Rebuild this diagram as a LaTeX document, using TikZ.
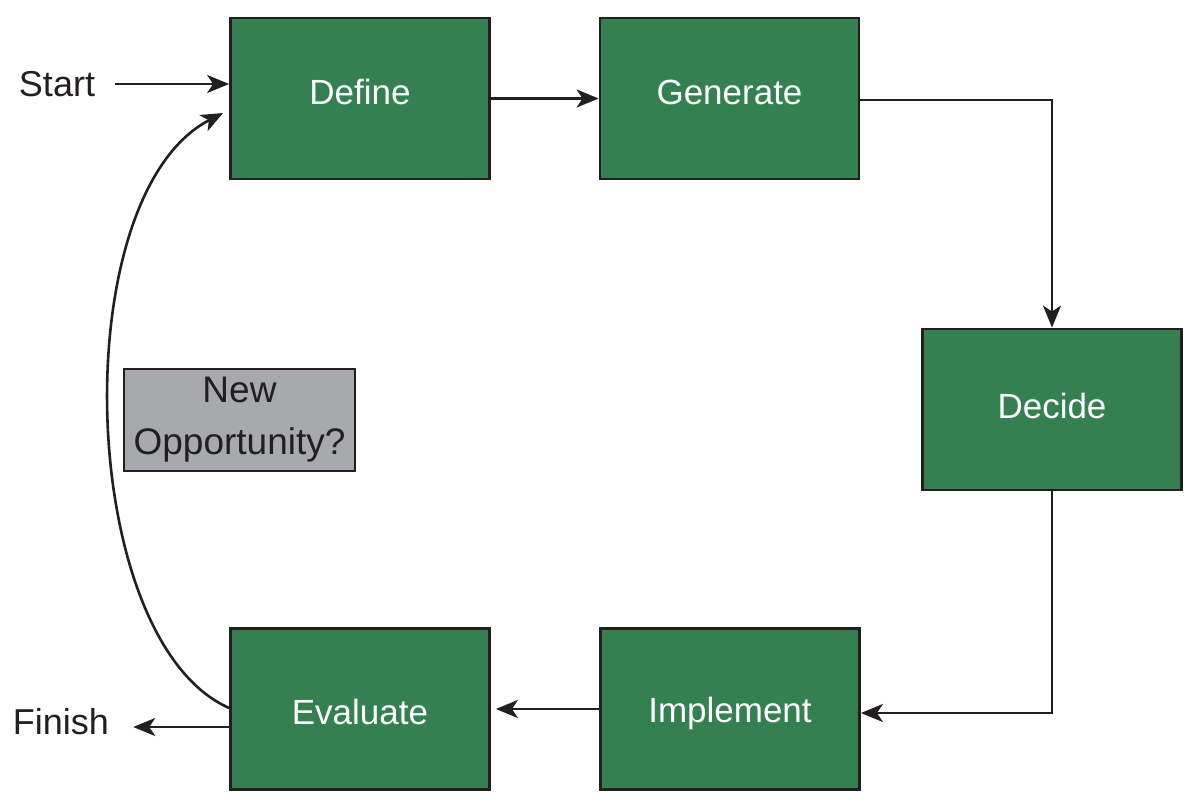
\documentclass[tikz,border=0pt]{standalone}
\usepackage{fontspec}
\setmainfont{Liberation Sans}
\usetikzlibrary{arrows.meta}
\definecolor{boxgreen}{HTML}{348051}
\definecolor{boxgray}{HTML}{A7A9AC}
\definecolor{ink}{HTML}{231F20}
\tikzset{
  stepbox/.style={draw=ink, line width=2.8pt, fill=boxgreen, text=white,
    minimum width=259pt, minimum height=161pt, inner sep=0pt,
    font=\fontsize{35}{40}\selectfont},
  graybox/.style={draw=ink, line width=2.8pt, fill=boxgray, text=ink,
    minimum width=231pt, minimum height=102pt, inner sep=0pt, align=center,
    font=\fontsize{37}{52}\selectfont},
  label/.style={text=ink, inner sep=0pt, font=\fontsize{36}{40}\selectfont},
  conn/.style={draw=ink, line width=2.6pt,
    -{Stealth[length=22pt,width=18pt,inset=6pt]}},
}
\begin{document}
\begin{tikzpicture}[x=1pt,y=-1pt]
\useasboundingbox (0,0) rectangle (1200,808);
\node[stepbox, text height=25pt, text depth=14pt] (define)    at (360,98.5)  {Define};
\node[stepbox, text height=25pt, text depth=14pt] (generate)  at (729.5,98.5) {Generate};
\node[stepbox, text height=25pt, text depth=8pt]  (decide)    at (1052,409.5) {Decide};
\node[stepbox, text height=27pt, text depth=0pt]  (implement) at (730,709)   {Implement};
\node[stepbox, text height=30pt, text depth=0pt]  (evaluate)  at (360,709)   {Evaluate};
\node[graybox] (newopp)    at (239.5,420) {New\\Opportunity?};
\node[label]   (start)     at (57,84)     {Start};
\node[label]   (finish)    at (61,722)    {Finish};

\draw[conn] ([xshift=20pt]start.east) -- (start.east -| define.west);
\draw[conn] (define.east) -- (generate.west);
\draw[conn] ([yshift=-1.5pt]generate.east) -| (decide.north);
\draw[conn] (decide.south) |- ([yshift=-4pt]implement.east);
\draw[conn] (implement.west) -- ([xshift=5pt]evaluate.east);
\draw[conn] ([yshift=-18pt]evaluate.west) -- ([xshift=24pt,yshift=-5pt]finish.east);
\draw[conn] ([yshift=1pt]evaluate.west) .. controls (76,640) and (64,195) .. ([xshift=-6pt,yshift=-14.5pt]define.west);
\end{tikzpicture}
\end{document}
